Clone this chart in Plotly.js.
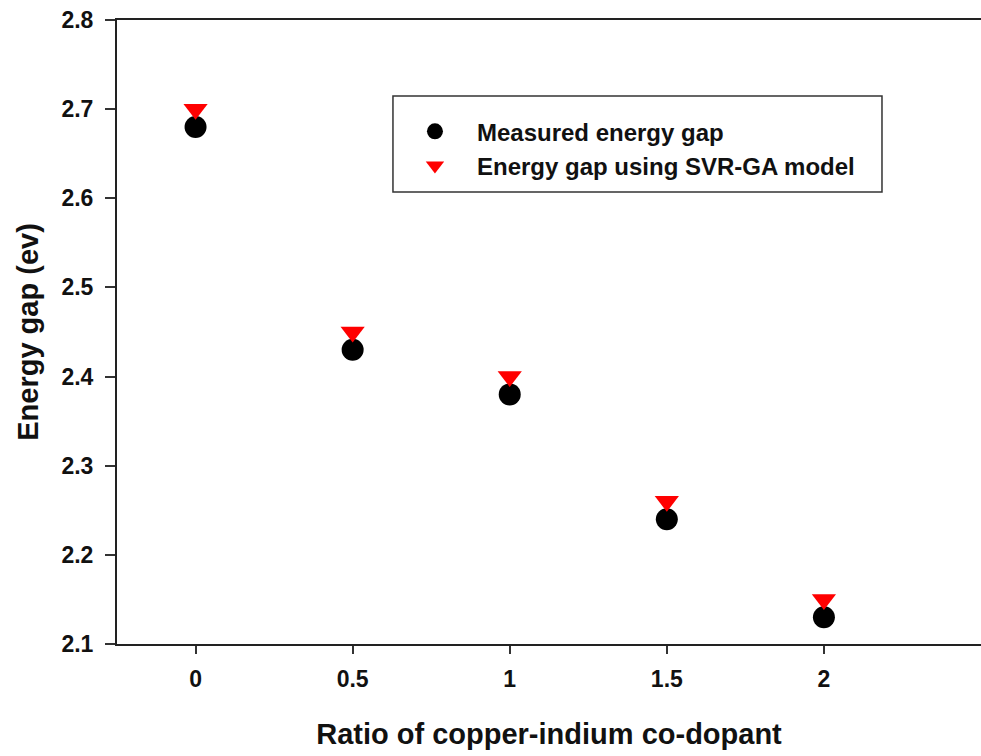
<!DOCTYPE html>
<html>
<head>
<meta charset="utf-8">
<script src="https://cdn.plot.ly/plotly-3.0.1.min.js"></script>
<style>html,body{margin:0;padding:0;background:#fff;}#chart{width:981px;height:756px;}</style>
</head>
<body>
<div id="chart"></div>
<script>
var ratio = [0, 0.5, 1, 1.5, 2];
var measuredGap = [2.68, 2.43, 2.38, 2.24, 2.13];
var svrGaGap = [2.70, 2.45, 2.40, 2.26, 2.15];
var xTicks = [0, 0.5, 1, 1.5, 2];
var xTickText = ['0', '0.5', '1', '1.5', '2'];
var yTicks = [2.1, 2.2, 2.3, 2.4, 2.5, 2.6, 2.7, 2.8];
var yTickText = ['2.1', '2.2', '2.3', '2.4', '2.5', '2.6', '2.7', '2.8'];
var seriesNames = ['Measured energy gap', 'Energy gap using SVR-GA model'];

var FONT = 'Liberation Sans, Arial, Helvetica, sans-serif';

var traces = [
  {
    x: ratio, y: measuredGap, name: seriesNames[0], type: 'scatter', mode: 'markers',
    marker: {symbol: 'circle', size: 22, color: '#000000'}
  },
  {
    x: ratio, y: svrGaGap, name: seriesNames[1], type: 'scatter', mode: 'markers',
    marker: {symbol: 'triangle-down', size: 21, color: '#ff0000'}
  }
];

var layout = {
  width: 981, height: 756,
  margin: {l: 117, r: 0, t: 20, b: 112, pad: 0},
  paper_bgcolor: '#ffffff', plot_bgcolor: '#ffffff',
  font: {family: FONT, color: '#111111', weight: 'bold'},
  showlegend: true,
  legend: {
    x: 0.3194, y: 0.857, xanchor: 'left', yanchor: 'top',
    bgcolor: 'rgba(0,0,0,0)', borderwidth: 0,
    font: {family: FONT, size: 24, color: '#111111', weight: 'bold'},
    indentation: 0, itemwidth: 74, tracegroupgap: 0
  },
  shapes: [{
    type: 'rect', xref: 'paper', yref: 'paper',
    x0: 0.3194, x1: 0.8854, y0: 0.7244, y1: 0.8782,
    line: {color: '#333333', width: 1.5}, fillcolor: 'rgba(0,0,0,0)', layer: 'below'
  }],
  xaxis: {
    range: [-0.25, 2.5], tickvals: xTicks, ticktext: xTickText,
    showgrid: false, zeroline: false, showline: true, linecolor: '#222222', linewidth: 2,
    mirror: true, ticks: 'outside', ticklen: 8, tickwidth: 2, tickcolor: '#333333',
    ticklabelstandoff: 5,
    tickfont: {family: FONT, size: 23, color: '#111111', weight: 'bold'},
    title: {text: 'Ratio of copper-indium co-dopant', standoff: 33,
      font: {family: FONT, size: 29, color: '#111111', weight: 'bold'}},
    fixedrange: true
  },
  yaxis: {
    range: [2.1, 2.8], tickvals: yTicks, ticktext: yTickText,
    showgrid: false, zeroline: false, showline: true, linecolor: '#222222', linewidth: 2,
    ticks: 'outside', ticklen: 10, tickwidth: 2, tickcolor: '#333333',
    ticklabelstandoff: 7,
    tickfont: {family: FONT, size: 23, color: '#111111', weight: 'bold'},
    title: {text: 'Energy gap (ev)', standoff: 14,
      font: {family: FONT, size: 29, color: '#111111', weight: 'bold'}},
    fixedrange: true
  }
};

Plotly.newPlot('chart', traces, layout, {displayModeBar: false, staticPlot: true});
</script>
</body>
</html>
